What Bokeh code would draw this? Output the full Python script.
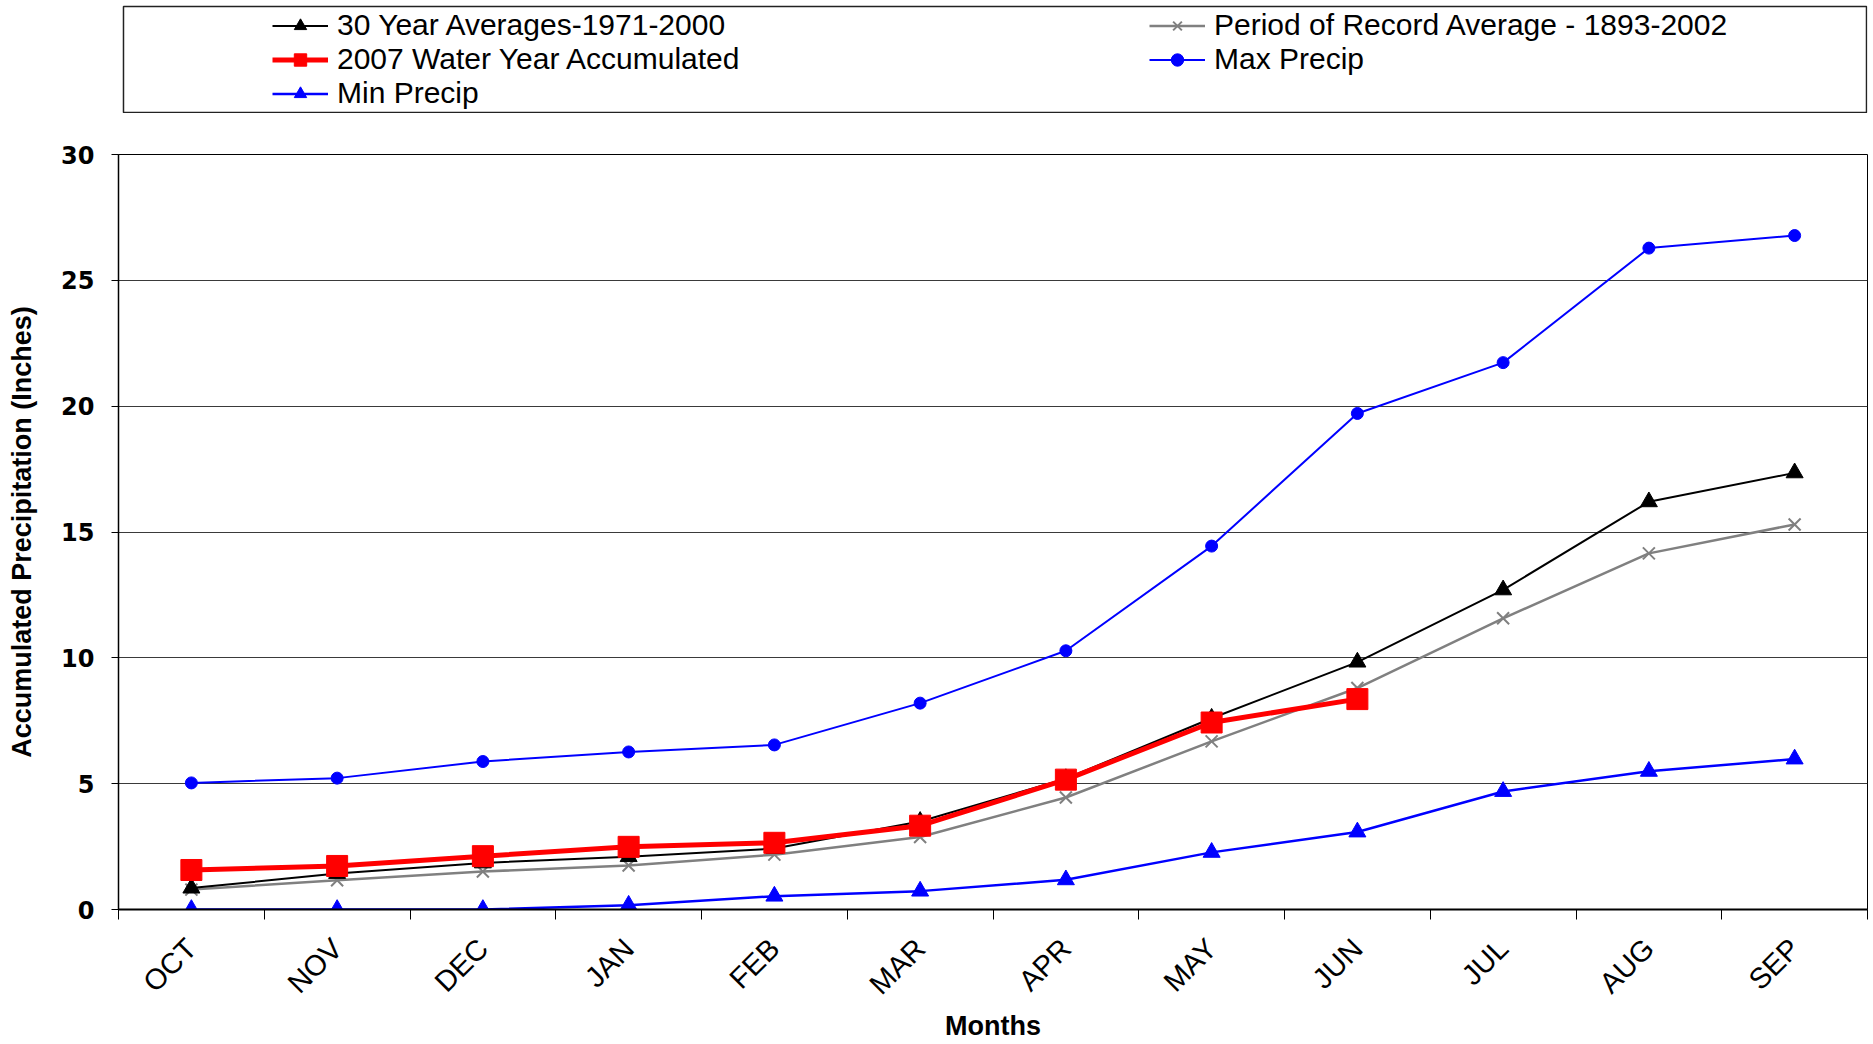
import math
from bokeh.plotting import figure
from bokeh.models import Range1d, FixedTicker, Legend, LegendItem, ColumnDataSource, BoxAnnotation
from bokeh.layouts import column
from bokeh.embed import file_html
from bokeh.resources import INLINE

# ---------------- data ----------------
months = ["OCT", "NOV", "DEC", "JAN", "FEB", "MAR", "APR", "MAY", "JUN", "JUL", "AUG", "SEP"]
avg_30yr = [0.85, 1.43, 1.85, 2.10, 2.42, 3.50, 5.20, 7.60, 9.83, 12.70, 16.20, 17.35]
period_avg = [0.79, 1.16, 1.51, 1.75, 2.18, 2.88, 4.45, 6.68, 8.80, 11.57, 14.15, 15.30]
wy_2007 = [1.57, 1.73, 2.12, 2.49, 2.65, 3.33, 5.16, 7.43, 8.36]
max_precip = [5.03, 5.22, 5.88, 6.26, 6.54, 8.20, 10.28, 14.44, 19.71, 21.73, 26.28, 26.78]
min_precip = [0.0, 0.0, 0.0, 0.17, 0.53, 0.73, 1.18, 2.27, 3.08, 4.69, 5.49, 5.98]
y_ticks = [0, 5, 10, 15, 20, 25, 30]

series = [
    ("30 Year Averages-1971-2000", avg_30yr),
    ("Period of Record Average - 1893-2002", period_avg),
    ("2007 Water Year Accumulated", wy_2007),
    ("Max Precip", max_precip),
    ("Min Precip", min_precip),
]
styles = {
    "30 Year Averages-1971-2000": dict(color="black", lw=2, marker="triangle", size=17, mlw=1),
    "Period of Record Average - 1893-2002": dict(color="#808080", lw=2.5, marker="x", size=17, mlw=2),
    "2007 Water Year Accumulated": dict(color="red", lw=5, marker="square", size=21, mlw=1),
    "Max Precip": dict(color="blue", lw=2, marker="circle", size=12, mlw=1),
    "Min Precip": dict(color="blue", lw=2.5, marker="triangle", size=17, mlw=1),
}
draw_order = ["Max Precip", "Min Precip", "Period of Record Average - 1893-2002",
              "30 Year Averages-1971-2000", "2007 Water Year Accumulated"]

W = 1872
LEFT = 118

# ---------------- main chart ----------------
p = figure(width=W, height=930, x_range=Range1d(0, len(months)), y_range=Range1d(0, 30),
           output_backend="svg", toolbar_location=None,
           min_border_left=LEFT, min_border_right=5, min_border_top=41, min_border_bottom=133)

data = dict(series)
for name in draw_order:
    vals = data[name]
    st = styles[name]
    src = ColumnDataSource(dict(x=[i + 0.5 for i in range(len(vals))], y=vals))
    p.line("x", "y", source=src, line_color=st["color"], line_width=st["lw"])
    p.scatter("x", "y", source=src, marker=st["marker"], size=st["size"],
              fill_color=st["color"], line_color=st["color"], line_width=st["mlw"])

p.xgrid.visible = False
p.ygrid.grid_line_color = "#3a3a3a"
p.ygrid.grid_line_width = 1
p.outline_line_color = "black"
p.outline_line_width = 1

xa = p.xaxis[0]
xa.ticker = FixedTicker(ticks=[i + 0.5 for i in range(len(months))],
                        minor_ticks=list(range(len(months) + 1)))
xa.major_label_overrides = {i + 0.5: m for i, m in enumerate(months)}
xa.major_tick_out = 0
xa.major_tick_in = 0
xa.minor_tick_out = 10
xa.minor_tick_in = 0
xa.minor_tick_line_color = "black"
xa.minor_tick_line_width = 1
xa.axis_line_width = 2
xa.axis_line_color = "black"
xa.major_label_orientation = math.pi / 4
xa.major_label_text_font = "Liberation Sans"
xa.major_label_text_font_size = "29px"
xa.major_label_text_color = "black"
xa.major_label_standoff = 24
xa.axis_label = "Months"
xa.axis_label_text_font = "Liberation Sans"
xa.axis_label_text_font_style = "bold"
xa.axis_label_text_font_size = "27px"
xa.axis_label_text_color = "black"
xa.axis_label_standoff = -4

ya = p.yaxis[0]
ya.ticker = FixedTicker(ticks=y_ticks)
ya.major_tick_out = 7
ya.major_tick_in = 0
ya.minor_tick_out = 0
ya.minor_tick_in = 0
ya.major_tick_line_color = "black"
ya.axis_line_width = 1.5
ya.axis_line_color = "black"
ya.major_label_text_font = "DejaVu Sans"
ya.major_label_text_font_style = "bold"
ya.major_label_text_font_size = "24px"
ya.major_label_text_color = "black"
ya.major_label_standoff = 17
ya.axis_label = "Accumulated Precipitation (Inches)"
ya.axis_label_text_font = "Liberation Sans"
ya.axis_label_text_font_style = "bold"
ya.axis_label_text_font_size = "27px"
ya.axis_label_text_color = "black"
ya.axis_label_standoff = 21

# ---------------- legend box ----------------
# the top strip uses pixel-like ranges so the framing box can be placed precisely
TOP_H = 113
top = figure(width=W, height=TOP_H, x_range=Range1d(LEFT, W - 1), y_range=Range1d(TOP_H, 0),
             x_axis_type=None, y_axis_type=None, output_backend="svg", toolbar_location=None,
             min_border_left=LEFT, min_border_right=1, min_border_top=0, min_border_bottom=0)
top.outline_line_color = None
top.add_layout(BoxAnnotation(left=123, right=1870, top=6, bottom=112,
                             fill_alpha=0, line_color="#222222", line_alpha=1.0, line_width=1.5))

items = []
for name, _vals in series:
    st = styles[name]
    # off-screen placeholder renderers, only used to draw the legend swatches
    hidden = ColumnDataSource(dict(x=[-50, -40], y=[-50, -40]))
    lr = top.line("x", "y", source=hidden, line_color=st["color"], line_width=st["lw"])
    sr = top.scatter("x", "y", source=hidden, marker=st["marker"], size=st["size"],
                     fill_color=st["color"], line_color=st["color"], line_width=st["mlw"])
    items.append(LegendItem(label=name, renderers=[lr, sr], index=0))

legend = Legend(items=items, orientation="horizontal", ncols=2, location=(154, 3),
                label_width=812, glyph_width=56, glyph_height=31, label_height=31,
                label_standoff=9, spacing=0, padding=0, margin=0,
                border_line_color=None, background_fill_alpha=0,
                label_text_font="Liberation Sans", label_text_font_size="30px",
                label_text_color="black")
top.add_layout(legend)

layout = column(top, p, spacing=0)
open("out.html", "w").write(file_html(layout, INLINE))
